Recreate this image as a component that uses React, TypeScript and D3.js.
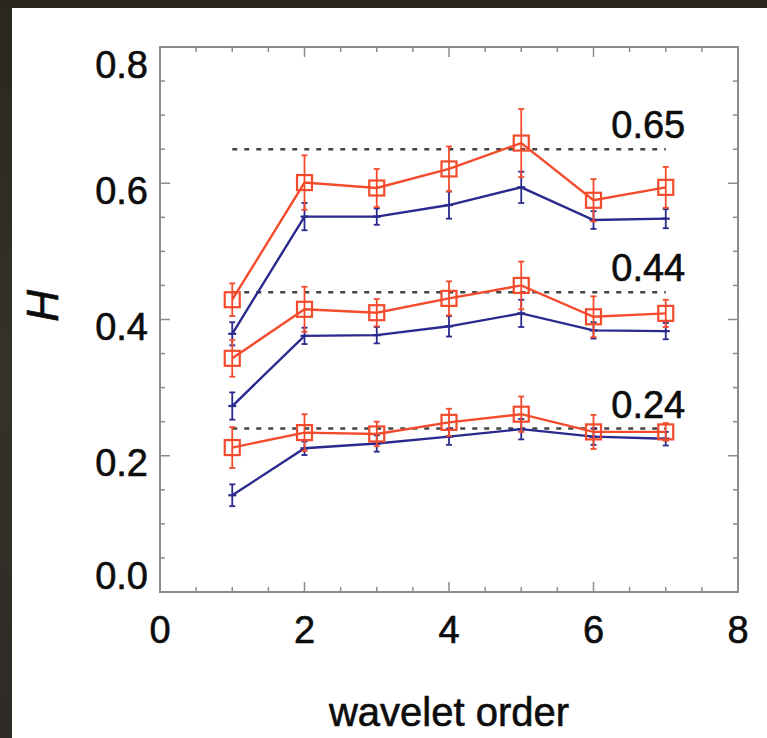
import * as d3 from "d3";

const orders = [1, 2, 3, 4, 5, 6, 7];
const redTop = [0.429, 0.601, 0.593, 0.621, 0.659, 0.575, 0.594];
const redTopErr = [0.024, 0.04, 0.028, 0.033, 0.05, 0.031, 0.03];
const blueTop = [0.379, 0.551, 0.551, 0.568, 0.594, 0.546, 0.548];
const blueTopErr = [0.017, 0.02, 0.012, 0.02, 0.023, 0.013, 0.014];
const redMid = [0.343, 0.415, 0.41, 0.431, 0.45, 0.404, 0.409];
const redMidErr = [0.027, 0.033, 0.02, 0.025, 0.035, 0.03, 0.02];
const blueMid = [0.273, 0.376, 0.377, 0.39, 0.409, 0.384, 0.383];
const blueMidErr = [0.02, 0.012, 0.012, 0.015, 0.02, 0.012, 0.012];
const redLow = [0.212, 0.234, 0.232, 0.249, 0.261, 0.235, 0.235];
const redLowErr = [0.03, 0.027, 0.018, 0.02, 0.026, 0.025, 0.013];
const blueLow = [0.142, 0.211, 0.218, 0.228, 0.239, 0.228, 0.225];
const blueLowErr = [0.016, 0.01, 0.012, 0.012, 0.015, 0.012, 0.01];
const refLevels = [0.65, 0.44, 0.24];
const refLabels = ["0.65", "0.44", "0.24"];
const xTicks = [0, 2, 4, 6, 8];
const yTicks = [0, 0.2, 0.4, 0.6, 0.8];

const width = 767;
const height = 738;
const left = 160, right = 738, top = 47, bottom = 592;
const RED = "#f44b2c";
const BLUE = "#2a2a8e";
const FRAME = "#8c8c8c";
const FONT = "'Liberation Sans', Arial, Helvetica, sans-serif";
// slightly heavier text, the reference is a soft photo of the slide
const textStyle = { fontFamily: FONT, fill: "#0c0c0c", stroke: "#0c0c0c", strokeWidth: 0.6 };

export default function App() {
  const x = d3.scaleLinear().domain([0, 8]).range([left, right]);
  const y = d3.scaleLinear().domain([0, 0.8]).range([bottom, top]);
  const line = d3.line<number>().x((_, i) => x(orders[i])).y(d => y(d));

  const red = [
    { v: redTop, e: redTopErr },
    { v: redMid, e: redMidErr },
    { v: redLow, e: redLowErr },
  ];
  const blue = [
    { v: blueTop, e: blueTopErr },
    { v: blueMid, e: blueMidErr },
    { v: blueLow, e: blueLowErr },
  ];

  const xMinor = d3.range(0, 8.01, 0.5);
  const yMinor = d3.range(0, 0.801, 0.05);

  const errBars = (s: { v: number[]; e: number[] }, color: string, k: string) =>
    s.v.map((d, i) => {
      const cx = x(orders[i]);
      return (
        <g key={k + i} stroke={color} strokeWidth={1.8}>
          <line x1={cx} x2={cx} y1={y(d - s.e[i])} y2={y(d + s.e[i])} />
          <line x1={cx - 3} x2={cx + 3} y1={y(d - s.e[i])} y2={y(d - s.e[i])} />
          <line x1={cx - 3} x2={cx + 3} y1={y(d + s.e[i])} y2={y(d + s.e[i])} />
        </g>
      );
    });

  return (
    <svg width={width} height={height} style={{ position: "absolute", left: 0, top: 0 }}>
      <defs>
        <linearGradient id="bg" x1="0" x2="0" y1="0" y2="1">
          <stop offset="0" stopColor="#2a2620" />
          <stop offset="0.5" stopColor="#35322a" />
          <stop offset="1" stopColor="#2e2a26" />
        </linearGradient>
      </defs>
      <rect width={width} height={height} fill="url(#bg)" />
      <rect x={12} y={8} width={width - 12} height={height - 8} fill="#ffffff" />

      {/* frame */}
      <rect x={left} y={top} width={right - left} height={bottom - top}
        fill="none" stroke={FRAME} strokeWidth={2} />
      <g stroke={FRAME} strokeWidth={1.5}>
        {xMinor.map(t => {
          const len = t % 2 === 0 ? 10 : 5;
          return (
            <g key={"xt" + t}>
              <line x1={x(t)} x2={x(t)} y1={bottom} y2={bottom - len} />
              <line x1={x(t)} x2={x(t)} y1={top} y2={top + len} />
            </g>
          );
        })}
        {yMinor.map((t, i) => {
          const len = i % 4 === 0 ? 10 : 5;
          return (
            <g key={"yt" + i}>
              <line x1={left} x2={left + len} y1={y(t)} y2={y(t)} />
              <line x1={right} x2={right - len} y1={y(t)} y2={y(t)} />
            </g>
          );
        })}
      </g>

      {/* reference levels */}
      <g stroke="#444" strokeWidth={2.5} strokeDasharray="5 7">
        {refLevels.map(r => (
          <line key={"r" + r} x1={x(1)} x2={x(7)} y1={y(r)} y2={y(r)} />
        ))}
      </g>
      {refLevels.map((r, i) => (
        <text key={"rl" + r} x={x(7.27)} y={y(r) - 11} textAnchor="end"
          fontSize={38} {...textStyle}>{refLabels[i]}</text>
      ))}

      {/* blue series */}
      {blue.map((s, k) => (
        <g key={"b" + k}>
          <path d={line(s.v) ?? ""} fill="none" stroke={BLUE} strokeWidth={2.4} />
          {errBars(s, BLUE, "be" + k)}
          {s.v.map((d, i) => (
            <line key={"bp" + i} x1={x(orders[i]) - 4} x2={x(orders[i]) + 4}
              y1={y(d)} y2={y(d)} stroke={BLUE} strokeWidth={2.2} />
          ))}
        </g>
      ))}

      {/* red series */}
      {red.map((s, k) => (
        <g key={"r" + k}>
          <path d={line(s.v) ?? ""} fill="none" stroke={RED} strokeWidth={2.4} />
          {errBars(s, RED, "re" + k)}
          {s.v.map((d, i) => (
            <rect key={"rs" + i} x={x(orders[i]) - 7.5} y={y(d) - 7.5} width={15} height={15}
              fill="none" stroke={RED} strokeWidth={2.2} />
          ))}
        </g>
      ))}

      {/* tick labels */}
      {yTicks.map(t => {
        const yy = Math.min(Math.max(y(t) + 7, top + 18), bottom - 16);
        return (
          <text key={"yl" + t} x={left - 12} y={yy} dy="0.35em" textAnchor="end"
            fontSize={38} {...textStyle}>{d3.format(".1f")(t)}</text>
        );
      })}
      {xTicks.map(t => (
        <text key={"xl" + t} x={x(t)} y={630} dy="0.35em" textAnchor="middle"
          fontSize={38} {...textStyle}>{t}</text>
      ))}

      <text x={x(4)} y={712} dy="0.35em" textAnchor="middle"
        fontSize={40} {...textStyle}>wavelet order</text>
      <text transform={`translate(43,${y(0.42)}) rotate(-90)`} dy="0.35em" textAnchor="middle"
        fontSize={44} fontStyle="italic" {...textStyle}>H</text>
    </svg>
  );
}
